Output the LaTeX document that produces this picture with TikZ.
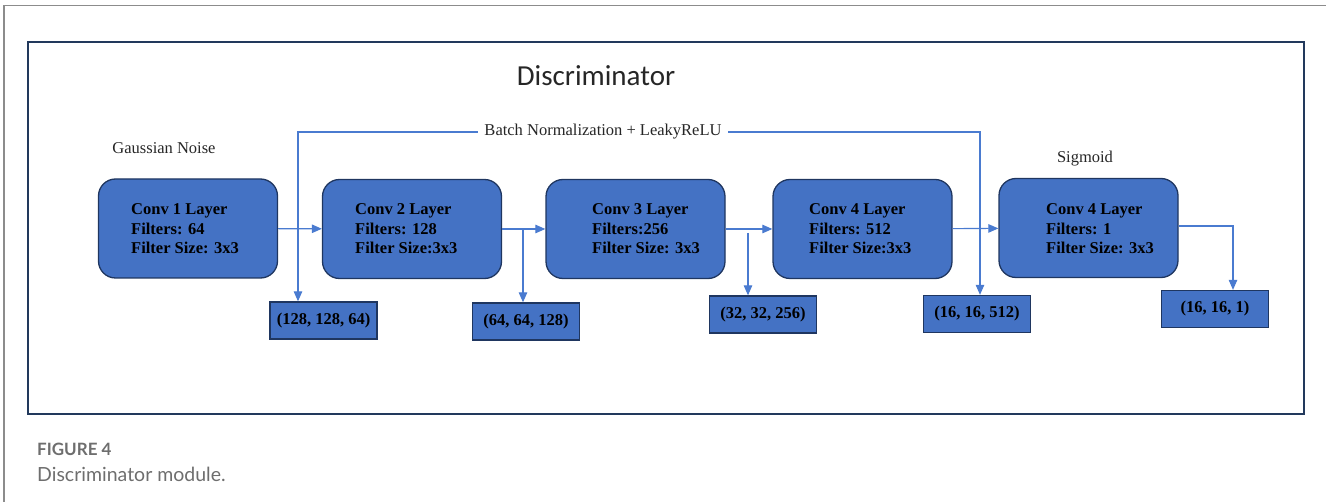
\documentclass[tikz,border=0pt]{standalone}
\usepackage{fontspec}
\setmainfont{Liberation Serif}
\newfontfamily\titlefont{Carlito}
\newfontfamily\capfont{Lato}
\usepackage{xcolor}
\usepackage{tikz}
\usetikzlibrary{arrows.meta}

\definecolor{convblue}{HTML}{4472C4}
\definecolor{convedge}{HTML}{1F3660}
\definecolor{flowblue}{HTML}{4A7BD0}
\definecolor{framenavy}{HTML}{22395C}
\definecolor{capgray}{HTML}{6E6E6E}

\tikzset{
    convbox/.style = {draw = convedge, line width = 1.3pt, fill = convblue,
        rounded corners = 17pt, minimum width = 179pt, minimum height = 99pt},
    shapebox/.style = {draw = convedge, line width = 1.3pt, fill = convblue,
        minimum width = 107pt, minimum height = 37pt,
        font = \fontsize{16.5}{19}\selectfont\bfseries},
    convtext/.style = {anchor = west, align = left, inner sep = 0pt,
        font = \fontsize{16.5}{19.6}\selectfont\bfseries},
    plaintext/.style = {font = \fontsize{16.5}{19}\selectfont, text = black!85},
    flow/.style = {draw = flowblue, line width = 1.1pt,
        -{Triangle[length = 10pt, width = 8.5pt]}}
}

\begin{document}
\begin{tikzpicture}[x = 1pt, y = -1pt]
        \useasboundingbox (0, 0) rectangle (1326, 502);
        % page frame and figure frame
        \draw[color = black!45, line width = 1.4pt] (4, 502) -- (4, 5.5) -- (1326, 5.5);
        \draw[color = framenavy, line width = 2pt] (28, 42) rectangle (1304, 414);

        \node[font = \titlefont\fontsize{29}{32}\selectfont, text = black!85] (title) at (596, 76) {Discriminator};
        \node[plaintext] (noise) at (164, 148) {Gaussian Noise};
        \node[plaintext] (sigmoid) at (1085, 159) {Sigmoid};

        % conv layers
        \node[convbox] (c1) at (188, 228.5) {};
        \node[convbox] (c2) at (412, 229) {};
        \node[convbox] (c3) at (635.5, 229) {};
        \node[convbox] (c4) at (862.5, 229) {};
        \node[convbox] (c5) at (1088.5, 228) {};

        \node[convtext] (t1) at (131, 229) {Conv 1 Layer\\Filters: 64\\Filter Size: 3x3};
        \node[convtext] (t2) at (355, 229) {Conv 2 Layer\\Filters: 128\\Filter Size:3x3};
        \node[convtext] (t3) at (592, 229) {Conv 3 Layer\\Filters:256\\Filter Size: 3x3};
        \node[convtext] (t4) at (809, 229) {Conv 4 Layer\\Filters: 512\\Filter Size:3x3};
        \node[convtext] (t5) at (1046, 229) {Conv 4 Layer\\Filters: 1\\Filter Size: 3x3};

        % output shapes
        \node[shapebox] (s1) at (323.5, 320.5) {(128, 128, 64)};
        \node[shapebox] (s2) at (526, 321.5) {(64, 64, 128)};
        \node[shapebox] (s3) at (763, 314.5) {(32, 32, 256)};
        \node[shapebox] (s4) at (977, 314) {(16, 16, 512)};
        \node[shapebox] (s5) at (1215, 309) {(16, 16, 1)};

        \coordinate (j2) at (523, 230);
        \coordinate (j3) at (748, 233);
        \coordinate (k5) at (1233, 226);
        \coordinate (b1) at (298, 132);
        \coordinate (b2) at (980, 132);

        \draw[flow] (c1) -- (c2);
        \draw[flow] (c2) -- (c3);
        \draw[flow] (c3) -- (c4);
        \draw[flow] (c4) -- (c5);
        \draw[flow] (j2) -- (j2 |- s2.north);
        \draw[flow] (j3) -- (j3 |- s3.north);
        \draw[flow] (c5.east |- k5) -- (k5) -- (k5 |- s5.north);

        \draw[flow, {Triangle[length = 10pt, width = 8.5pt]}-{Triangle[length = 10pt, width = 8.5pt]}]
            (b1 |- s1.north) -- (b1) -- (b2) -- (b2 |- s4.north);
        \node[plaintext, fill = white, inner xsep = 6pt] (bn) at (603, 132) {Batch Normalization + LeakyReLU};

        % caption
        \node[anchor = west, inner sep = 0pt, text = capgray, font = \capfont\fontsize{17}{19}\selectfont\bfseries] (fig) at (37, 449) {FIGURE 4};
        \node[anchor = west, inner sep = 0pt, text = capgray, font = \capfont\fontsize{19.5}{22}\selectfont] (cap) at (37, 474) {Discriminator module.};
    \end{tikzpicture}
\end{document}
